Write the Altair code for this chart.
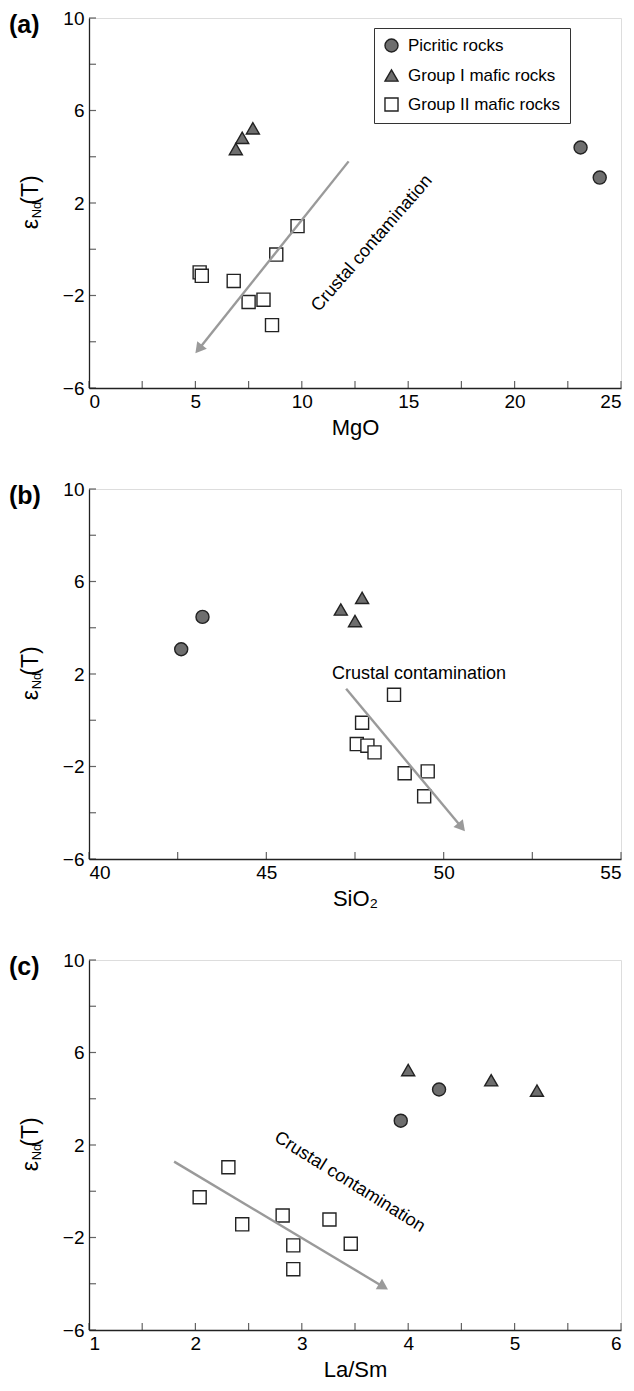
import math
import altair as alt
import pandas as pd

FONT = "Liberation Sans"
GROUPS = ["Picritic rocks", "Group I mafic rocks", "Group II mafic rocks"]
NOTE = "Crustal contamination"

# ---------------- panel (a): MgO ----------------
a_pic_x = [23.1, 24.0]
a_pic_y = [4.4, 3.1]
a_g1_x = [6.9, 7.2, 7.7]
a_g1_y = [4.33, 4.82, 5.23]
a_g2_x = [9.8, 8.8, 5.2, 5.3, 6.8, 8.2, 7.5, 8.6]
a_g2_y = [1.0, -0.23, -1.0, -1.15, -1.37, -2.18, -2.28, -3.28]
a_arrow_x = [12.2, 5.0]
a_arrow_y = [3.8, -4.5]
a_note_x = [13.3]
a_note_y = [0.25]

# ---------------- panel (b): SiO2 ----------------
b_pic_x = [43.2, 42.6]
b_pic_y = [4.47, 3.07]
b_g1_x = [47.1, 47.7, 47.5]
b_g1_y = [4.79, 5.29, 4.29]
b_g2_x = [48.6, 47.7, 47.55, 47.85, 48.05, 49.55, 48.9, 49.45]
b_g2_y = [1.1, -0.11, -1.03, -1.1, -1.39, -2.21, -2.29, -3.29]
b_arrow_x = [47.25, 50.6]
b_arrow_y = [1.36, -4.8]
b_note_x = [46.85]
b_note_y = [2.0]

# ---------------- panel (c): La/Sm ----------------
c_pic_x = [4.29, 3.93]
c_pic_y = [4.40, 3.05]
c_g1_x = [4.0, 4.78, 5.21]
c_g1_y = [5.24, 4.8, 4.35]
c_g2_x = [2.31, 2.04, 2.44, 2.82, 3.26, 2.92, 3.46, 2.92]
c_g2_y = [1.04, -0.26, -1.43, -1.05, -1.22, -2.34, -2.27, -3.37]
c_arrow_x = [1.8, 3.81]
c_arrow_y = [1.28, -4.25]
c_note_x = [3.45]
c_note_y = [0.39]

Y_DOMAIN = [-6, 10]
Y_TICKS = [-6, -4, -2, 0, 2, 4, 6, 8, 10]

W = 532
H = 370
HEAD_SIZE = 150


def panel(tag, pic, g1, g2, xdom, xticks, label_step, xtitle, arrow, note, note_angle,
          note_align, legend):
    df = pd.DataFrame({
        "x": pic[0] + g1[0] + g2[0],
        "y": pic[1] + g1[1] + g2[1],
        "group": [GROUPS[0]] * len(pic[0]) + [GROUPS[1]] * len(g1[0]) + [GROUPS[2]] * len(g2[0]),
    })
    xscale = alt.Scale(domain=xdom, nice=False, zero=False)
    yscale = alt.Scale(domain=Y_DOMAIN, nice=False, zero=False)

    if legend:
        leg = alt.Legend(title=None, orient="none", legendX=285, legendY=10,
                         strokeColor="#333", fillColor="white", padding=9,
                         labelFontSize=17, labelFont=FONT, labelColor="black", labelLimit=400,
                         symbolSize=170, symbolStrokeWidth=1.4,
                         rowPadding=11, labelOffset=8, cornerRadius=0)
    else:
        leg = None

    xaxis = alt.Axis(values=xticks, title=xtitle, ticks=False, grid=False, format="~r",
                     labelExpr=f"abs(datum.value % {label_step}) < 1e-6 ? datum.label : ''",
                     labelFontSize=19, titleFontSize=22, titleFontWeight="normal",
                     labelPadding=4, titlePadding=6, domainColor="#222", domainWidth=1.3,
                     labelColor="black", titleColor="black", labelFont=FONT, titleFont=FONT)
    yaxis = alt.Axis(values=Y_TICKS, title=None, ticks=False, grid=False, format="d",
                     labelExpr="abs(datum.value % 4) == 2 ? datum.label : ''",
                     labelFontSize=19, labelPadding=5, domainColor="#222", domainWidth=1.3,
                     labelColor="black", labelFont=FONT)

    pts = alt.Chart(df).mark_point(size=170, strokeWidth=1.4, opacity=1).encode(
        x=alt.X("x:Q", scale=xscale, axis=xaxis),
        y=alt.Y("y:Q", scale=yscale, axis=yaxis),
        shape=alt.Shape("group:N", scale=alt.Scale(domain=GROUPS,
                        range=["circle", "triangle-up", "square"]), legend=leg),
        fill=alt.Fill("group:N", scale=alt.Scale(domain=GROUPS,
                      range=["#6e6e6e", "#6e6e6e", "#ffffff"]), legend=leg),
        stroke=alt.Stroke("group:N", scale=alt.Scale(domain=GROUPS,
                          range=["#222222", "#222222", "#222222"]), legend=leg),
    )

    # inward tick marks (drawn from the tick value lists)
    xt = alt.Chart(pd.DataFrame({"t": xticks})).mark_tick(
        orient="vertical", size=7, thickness=1.2, color="#222").encode(
        x=alt.X("t:Q", scale=xscale), y=alt.value(H - 3.5))
    yt = alt.Chart(pd.DataFrame({"t": Y_TICKS})).mark_tick(
        orient="horizontal", size=7, thickness=1.2, color="#222").encode(
        y=alt.Y("t:Q", scale=yscale), x=alt.value(3.5))

    # arrow: shaft + head
    xr = xdom[1] - xdom[0]
    sx = W / xr
    sy = H / (Y_DOMAIN[1] - Y_DOMAIN[0])
    dx = (arrow[0][1] - arrow[0][0]) * sx
    dy = -(arrow[1][1] - arrow[1][0]) * sy
    n = math.hypot(dx, dy)
    ang = math.degrees(math.atan2(dx, -dy)) % 360
    off = 0.433 * math.sqrt(HEAD_SIZE)
    hx = arrow[0][1] - off * (dx / n) / sx
    hy = arrow[1][1] + off * (dy / n) / sy
    sx2 = arrow[0][1] - 1.6 * off * (dx / n) / sx
    sy2 = arrow[1][1] + 1.6 * off * (dy / n) / sy
    adf = pd.DataFrame({"x1": [arrow[0][0]], "y1": [arrow[1][0]], "x2": [sx2], "y2": [sy2]})
    shaft = alt.Chart(adf).mark_rule(color="#9a9a9a", strokeWidth=2.4).encode(
        x=alt.X("x1:Q", scale=xscale), y=alt.Y("y1:Q", scale=yscale), x2="x2:Q", y2="y2:Q")
    head = alt.Chart(pd.DataFrame({"x": [hx], "y": [hy]})).mark_point(
        shape="triangle-up", filled=True, color="#9a9a9a", size=HEAD_SIZE, opacity=1,
        angle=ang).encode(x=alt.X("x:Q", scale=xscale), y=alt.Y("y:Q", scale=yscale))

    ndf = pd.DataFrame({"x": note[0], "y": note[1], "t": [NOTE]})
    txt = alt.Chart(ndf).mark_text(fontSize=18, font=FONT, color="black", angle=note_angle,
                                   align=note_align, baseline="middle").encode(
        x=alt.X("x:Q", scale=xscale), y=alt.Y("y:Q", scale=yscale), text="t:N")

    tag_txt = alt.Chart(pd.DataFrame({"t": [tag]})).mark_text(
        fontSize=25, fontWeight="bold", font=FONT, color="black", align="left",
        baseline="middle").encode(x=alt.value(-80), y=alt.value(7), text="t:N")

    # y-axis title: epsilon with subscript Nd, then (T)
    ytitle_df = pd.DataFrame({
        "t": ["ε", "Nd", "(T)"],
        "dx": [-58, -52, -58],
        "dy": [H / 2 + 21, H / 2 + 7, H / 2 - 13],
        "fs": [23, 13, 23],
    })
    ytitle = alt.Chart(ytitle_df).mark_text(font=FONT, color="black", angle=270,
                                            align="center", baseline="middle").encode(
        x=alt.X("dx:Q", scale=None), y=alt.Y("dy:Q", scale=None),
        size=alt.Size("fs:Q", scale=None, legend=None), text="t:N")

    return alt.layer(pts, xt, yt, shaft, head, txt, tag_txt, ytitle).properties(width=W, height=H)


pa = panel("(a)", (a_pic_x, a_pic_y), (a_g1_x, a_g1_y), (a_g2_x, a_g2_y), [0, 25],
           [0, 2.5, 5, 7.5, 10, 12.5, 15, 17.5, 20, 22.5, 25], 5, "MgO",
           (a_arrow_x, a_arrow_y), (a_note_x, a_note_y), 311, "center", True)
pb = panel("(b)", (b_pic_x, b_pic_y), (b_g1_x, b_g1_y), (b_g2_x, b_g2_y), [40, 55],
           [40, 42.5, 45, 47.5, 50, 52.5, 55], 5, "SiO₂",
           (b_arrow_x, b_arrow_y), (b_note_x, b_note_y), 0, "left", False)
pc = panel("(c)", (c_pic_x, c_pic_y), (c_g1_x, c_g1_y), (c_g2_x, c_g2_y), [1, 6],
           [1, 1.5, 2, 2.5, 3, 3.5, 4, 4.5, 5, 5.5, 6], 1, "La/Sm",
           (c_arrow_x, c_arrow_y), (c_note_x, c_note_y), 32, "center", False)

chart = alt.vconcat(pa, pb, pc, spacing=40).resolve_scale(
    x="independent", y="independent", shape="independent", fill="independent",
    stroke="independent"
).resolve_legend(shape="independent", fill="independent", stroke="independent").properties(
    padding=0
).configure_view(stroke="#222", strokeWidth=1.3).configure(background="white")

chart.save("out.html", embed_options={"renderer": "svg", "actions": False})
